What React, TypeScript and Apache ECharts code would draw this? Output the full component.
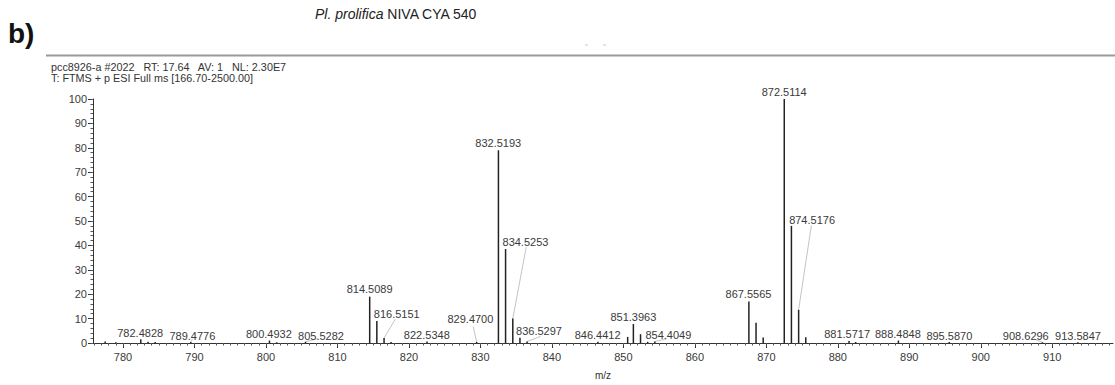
import React, { useEffect, useRef } from "react";
import * as echarts from "echarts";

// Spectrum sticks: m/z and relative abundance (%)
const peakMz = [777.5, 779.0, 782.48, 783.5, 784.5, 789.48, 800.49, 801.5, 805.53, 814.51, 815.51, 816.52, 817.5, 822.53, 829.47, 832.52, 833.52, 834.53, 835.53, 836.53, 846.44, 850.6, 851.4, 852.4, 853.4, 854.4, 867.56, 868.56, 869.56, 872.51, 873.51, 874.52, 875.52, 881.57, 882.5, 888.48, 895.59, 908.63, 913.58];
const peakInt = [0.6, 0.3, 1.5, 0.5, 0.4, 0.4, 1.0, 0.3, 0.5, 19, 9, 2, 0.4, 0.6, 0.4, 79, 38.5, 10, 2.2, 0.6, 0.5, 2.5, 7.8, 3.6, 0.5, 0.6, 17, 8.3, 2.3, 100, 48, 13.6, 2.4, 0.8, 0.4, 1.0, 0.4, 0.3, 0.3];

// Peak annotations: text and anchor (m/z, abundance) of text centre
const labelText = ["782.4828", "789.4776", "800.4932", "805.5282", "814.5089", "816.5151", "822.5348", "829.4700", "832.5193", "834.5253", "836.5297", "846.4412", "851.3963", "854.4049", "867.5565", "872.5114", "874.5176", "881.5717", "888.4848", "895.5870", "908.6296", "913.5847"];
const labelMz = [782.4, 789.7, 800.4, 807.7, 814.5, 818.3, 822.5, 828.6, 832.5, 836.3, 838.2, 846.4, 851.4, 856.3, 867.5, 872.5, 876.4, 881.3, 888.4, 895.6, 906.3, 913.6];
const labelInt = [4.1, 3.0, 3.6, 3.0, 22, 11.8, 3.3, 10, 82, 41.2, 4.9, 3.3, 10.7, 3.3, 20, 103, 50.6, 3.6, 3.6, 3.0, 2.9, 2.9];

// Leader lines from peak top to displaced label
const leaderFromMz = [789.48, 805.53, 816.52, 829.47, 834.53, 836.53, 854.4, 874.52, 908.63];
const leaderFromInt = [0.4, 0.5, 2, 0.4, 10, 0.6, 0.6, 13.6, 0.3];
const leaderToMz = [789.7, 807.3, 818.1, 829.0, 836.4, 838.4, 856.1, 876.3, 907.5];
const leaderToInt = [1.6, 1.8, 9.8, 6.7, 39.2, 2.7, 1.7, 48.2, 1.6];

// Axis ticks
const xMajor = [780, 790, 800, 810, 820, 830, 840, 850, 860, 870, 880, 890, 900, 910];
const xMinor: number[] = [];
for (let v = 776; v <= 918; v += 1) xMinor.push(v);
const yMajor = [0, 10, 20, 30, 40, 50, 60, 70, 80, 90, 100];
const yMinor: number[] = [];
for (let v = 0; v <= 100; v += 2) yMinor.push(v);

const X_MIN = 775.8;
const X_MAX = 918.5;

const FONT = "Liberation Sans, Arial, sans-serif";
const TXT = "#3a3a3a";

export default function App() {
  const ref = useRef<HTMLDivElement>(null);
  useEffect(() => {
    if (!ref.current) return;
    const chart = echarts.init(ref.current, undefined, { renderer: "svg" });
    const axisLine = { show: true, lineStyle: { color: "#333", width: 1 } };
    const option: any = {
      animation: false,
      backgroundColor: "#fff",
      grid: { left: 93, right: 2, top: 99, bottom: 36, containLabel: false },
      xAxis: [
        {
          type: "value", min: X_MIN, max: X_MAX, splitLine: { show: false },
          name: "m/z", nameLocation: "middle", nameGap: 27,
          nameTextStyle: { fontSize: 10, color: "#333", fontFamily: FONT },
          axisLine,
          axisTick: { show: true, length: 5, customValues: xMajor, lineStyle: { color: "#333" } },
          axisLabel: { show: true, customValues: xMajor, margin: 8, fontSize: 11, color: TXT, fontFamily: FONT },
        },
        {
          type: "value", min: X_MIN, max: X_MAX, splitLine: { show: false }, position: "bottom",
          axisLine: { show: false },
          axisTick: { show: true, length: 2.5, customValues: xMinor, lineStyle: { color: "#555" } },
          axisLabel: { show: false },
        },
      ],
      yAxis: [
        {
          type: "value", min: 0, max: 100, splitLine: { show: false },
          axisLine,
          axisTick: { show: true, length: 5, customValues: yMajor, lineStyle: { color: "#333" } },
          axisLabel: { show: true, customValues: yMajor, margin: 6, fontSize: 11, color: TXT, fontFamily: FONT },
        },
        {
          type: "value", min: 0, max: 100, splitLine: { show: false }, position: "left",
          axisLine: { show: false },
          axisTick: { show: true, length: 2.5, customValues: yMinor, lineStyle: { color: "#555" } },
          axisLabel: { show: false },
        },
      ],
      series: [
        {
          type: "custom",
          xAxisIndex: 0, yAxisIndex: 0,
          data: leaderFromMz.map((m, i) => [m, leaderFromInt[i], leaderToMz[i], leaderToInt[i]]),
          encode: { x: [0, 2], y: [1, 3] },
          clip: false,
          renderItem: (params: any, api: any) => {
            const a = api.coord([api.value(0), api.value(1)]);
            const b = api.coord([api.value(2), api.value(3)]);
            return { type: "line", shape: { x1: a[0], y1: a[1], x2: b[0], y2: b[1] }, style: { stroke: "#c4c4c4", lineWidth: 1 } };
          },
        },
        {
          type: "custom",
          xAxisIndex: 0, yAxisIndex: 0,
          data: peakMz.map((m, i) => [m, peakInt[i]]),
          encode: { x: 0, y: 1 },
          clip: false,
          renderItem: (params: any, api: any) => {
            const a = api.coord([api.value(0), 0]);
            const b = api.coord([api.value(0), api.value(1)]);
            return { type: "line", shape: { x1: a[0], y1: a[1], x2: b[0], y2: b[1] }, style: { stroke: "#222", lineWidth: 1.5 } };
          },
        },
        {
          type: "custom",
          xAxisIndex: 0, yAxisIndex: 0,
          data: labelMz.map((m, i) => [m, labelInt[i], labelText[i]]),
          encode: { x: 0, y: 1 },
          clip: false,
          renderItem: (params: any, api: any) => {
            const p = api.coord([api.value(0), api.value(1)]);
            return {
              type: "text", x: p[0], y: p[1],
              style: { text: labelText[params.dataIndex], align: "center", verticalAlign: "middle", fill: TXT, font: `11px ${FONT}` },
            };
          },
        },
      ],
      graphic: [
        { type: "text", left: 8, top: 19, style: { text: "b)", font: `bold 28px ${FONT}`, fill: "#111" } },
        {
          type: "text", left: 315, top: 7,
          style: {
            text: "{i|Pl. prolifica} NIVA CYA 540",
            rich: { i: { fontStyle: "italic", font: `italic 14px ${FONT}`, fill: "#222" } },
            font: `14px ${FONT}`, fill: "#222",
          },
        },
        { type: "line", shape: { x1: 46, y1: 55.5, x2: 1115, y2: 55.5 }, style: { stroke: "#9a9a9a", lineWidth: 2 } },
        { type: "line", shape: { x1: 585, y1: 45, x2: 588, y2: 45 }, style: { stroke: "#c8c8c8", lineWidth: 1 } },
        { type: "line", shape: { x1: 603, y1: 45, x2: 606, y2: 45 }, style: { stroke: "#c8c8c8", lineWidth: 1 } },
        { type: "text", left: 51, top: 61, style: { text: "pcc8926-a #2022   RT: 17.64   AV: 1   NL: 2.30E7", font: `10.8px ${FONT}`, fill: "#333" } },
        { type: "text", left: 51, top: 72, style: { text: "T: FTMS + p ESI Full ms [166.70-2500.00]", font: `10.8px ${FONT}`, fill: "#333" } },
      ],
    };
    chart.setOption(option);
    return () => chart.dispose();
  }, []);
  return <div ref={ref} style={{ position: "fixed", left: 0, top: 0, width: 1115, height: 385 }} />;
}
